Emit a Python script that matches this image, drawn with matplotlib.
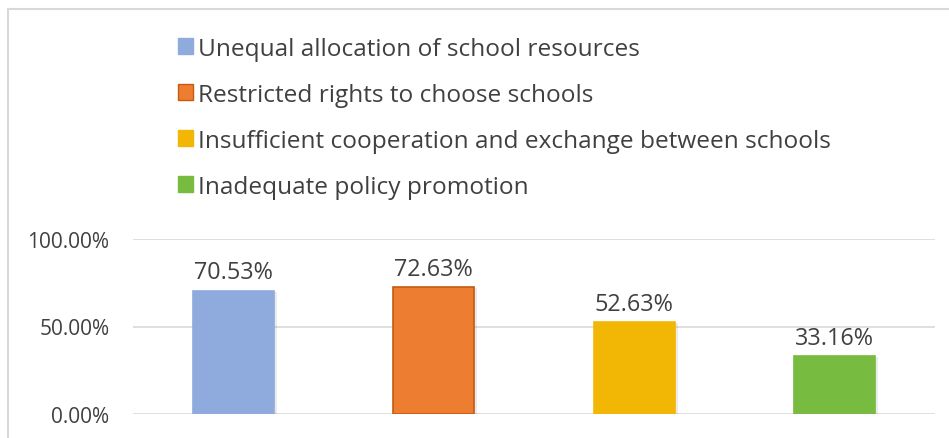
import matplotlib
matplotlib.use("Agg")
import matplotlib.pyplot as plt
from matplotlib.lines import Line2D
from matplotlib.patches import Patch
import matplotlib.patheffects as pe

categories = [
    "Unequal allocation of school resources",
    "Restricted rights to choose schools",
    "Insufficient cooperation and exchange between schools",
    "Inadequate policy promotion",
]
values = [70.53, 72.63, 52.63, 33.16]
colors = ["#8faadc", "#ed7d31", "#f2b705", "#77bb41"]
edges = ["#8faadc", "#c55a11", "#f2b705", "#77bb41"]
yticks = [0, 50, 100]

plt.rcParams["font.family"] = ["Open Sans", "DejaVu Sans"]
text_color = "#404040"

fig = plt.figure(figsize=(9.49, 4.39), dpi=100)
W, H = 949, 439

# outer chart border (top and left visible)
fig.add_artist(Line2D([8 / W, 8 / W], [0, 1 - 10 / H], transform=fig.transFigure,
                      color="#d9d9d9", lw=1.5))
fig.add_artist(Line2D([8 / W, 1], [1 - 10 / H, 1 - 10 / H], transform=fig.transFigure,
                      color="#d9d9d9", lw=1.5))

ax = fig.add_axes([133 / W, 24 / H, (935 - 133) / W, (415 - 240) / H])
x = range(len(values))
shadow = [pe.SimplePatchShadow(offset=(2, -1), shadow_rgbFace="#000000", alpha=0.08), pe.Normal()]
bars = ax.bar(x, values, width=0.405, color=colors, edgecolor=edges, linewidth=1.2, zorder=3)
for b in bars:
    b.set_path_effects(shadow)

for xi, v in zip(x, values):
    ax.text(xi, v + 3.5, f"{v:.2f}%", ha="center", va="bottom", fontsize=16.8,
            color=text_color, clip_on=False)

ax.set_xlim(-0.5, len(values) - 0.5)
ax.set_ylim(0, 100)
ax.set_yticks(yticks)
ax.set_yticklabels([f"{t:.2f}%" for t in yticks], fontsize=15, color=text_color)
ax.set_xticks([])
ax.tick_params(axis="y", length=0, pad=17)
ax.yaxis.grid(True, color="#d9d9d9", lw=1.2, zorder=0)
for s in ax.spines.values():
    s.set_visible(False)

handles = [Patch(facecolor=c, edgecolor=e, lw=1) for c, e in zip(colors, edges)]
fig.legend(handles, categories, loc="upper left", bbox_to_anchor=(168 / W, 1 - 28 / H),
           frameon=False, fontsize=17.6, labelcolor=text_color, handlelength=0.62,
           handleheight=0.62, handletextpad=0.22, labelspacing=0.9, borderaxespad=0)

fig.savefig("out.png", dpi=100)
